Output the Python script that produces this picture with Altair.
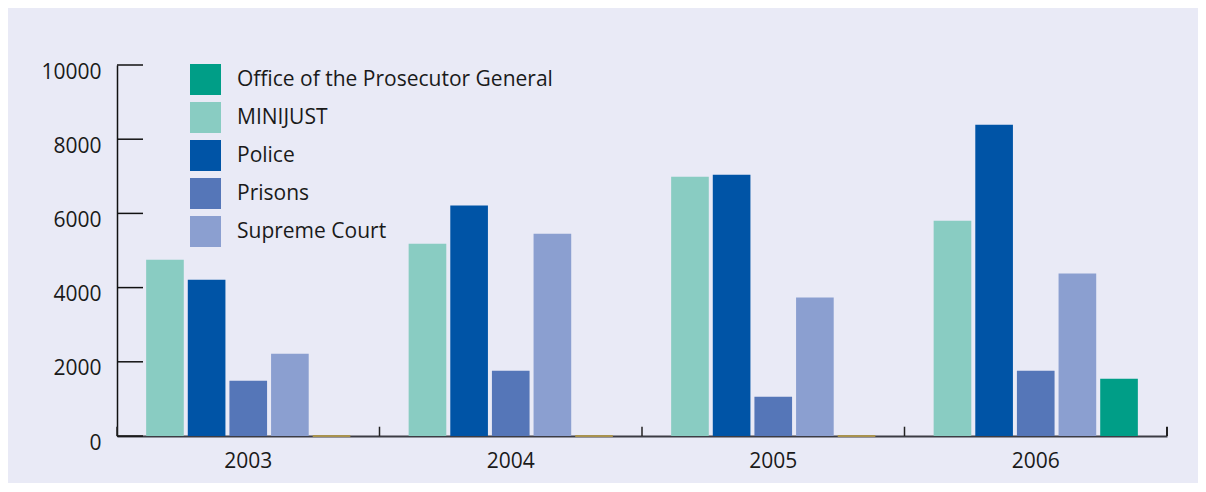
import altair as alt
import pandas as pd

years = ["2003", "2004", "2005", "2006"]
bar_order = ["MINIJUST", "Police", "Prisons", "Supreme Court", "Office of the Prosecutor General"]
legend_order = ["Office of the Prosecutor General", "MINIJUST", "Police", "Prisons", "Supreme Court"]
legend_colors = ["#009E87", "#89CCC2", "#0054A6", "#5576B8", "#8B9FD0"]

minijust = [4750, 5180, 6990, 5800]
police = [4210, 6210, 7040, 8390]
prisons = [1490, 1760, 1060, 1760]
supreme = [2220, 5450, 3730, 4380]
prosecutor = [0, 0, 0, 1540]

y_ticks = [0, 2000, 4000, 6000, 8000, 10000]

series = {
    "MINIJUST": minijust,
    "Police": police,
    "Prisons": prisons,
    "Supreme Court": supreme,
    "Office of the Prosecutor General": prosecutor,
}
rows = []
for name in bar_order:
    for yr, v in zip(years, series[name]):
        rows.append({"year": yr, "agency": name, "value": v})
df = pd.DataFrame(rows)
tick_df = pd.DataFrame({"tick": y_ticks})
year_df = pd.DataFrame({"year": years})
last_df = pd.DataFrame({"year": years[-1:]})

FONT = "Open Sans"

x_scale = alt.Scale(domain=years, paddingInner=0, paddingOuter=0)
xo_scale = alt.Scale(domain=bar_order, paddingInner=0.096, paddingOuter=0.7)
y_scale = alt.Scale(domain=[0, 10000], nice=False)

x_axis = alt.Axis(title=None, ticks=False, labelAngle=0, labelPadding=14,
                  labelFontSize=21, labelFont=FONT, labelColor="#1a1a1a",
                  domainColor="#3c3c44", domainWidth=2, grid=False)
y_axis = alt.Axis(title=None, ticks=False, values=y_ticks, format="d", labelPadding=16,
                  labelFontSize=21, labelFont=FONT, labelColor="#1a1a1a",
                  labelOffset=7, domainColor="#111111", domainWidth=1.5, grid=False)

bars = alt.Chart(df).mark_bar().encode(
    x=alt.X("year:N", scale=x_scale, axis=x_axis),
    xOffset=alt.XOffset("agency:N", scale=xo_scale),
    y=alt.Y("value:Q", scale=y_scale, axis=y_axis),
    color=alt.Color(
        "agency:N",
        scale=alt.Scale(domain=legend_order, range=legend_colors),
        legend=alt.Legend(
            title=None, orient="none", legendX=73, legendY=-1,
            symbolType="square", symbolSize=961, symbolStrokeWidth=0,
            symbolOpacity=1, labelFontSize=21, labelFont=FONT,
            labelColor="#1a1a1a", rowPadding=7, labelOffset=16, labelLimit=0,
        ),
    ),
)

zero_lines = alt.Chart(df).transform_filter("datum.value == 0").mark_bar(
    fill="#A8924E", stroke="#A8924E", strokeWidth=2
).encode(
    x=alt.X("year:N", scale=x_scale),
    xOffset=alt.XOffset("agency:N", scale=xo_scale),
    y=alt.Y("value:Q", scale=y_scale),
)

y_tick_rules = alt.Chart(tick_df).mark_rule(color="#111111", strokeWidth=1.5).encode(
    y=alt.Y("tick:Q", scale=y_scale),
    x=alt.value(0),
    x2=alt.value(26),
)

x_tick_rules = alt.Chart(year_df).mark_rule(color="#222222", strokeWidth=1.5).encode(
    x=alt.X("year:N", scale=x_scale, bandPosition=0),
    y=alt.datum(0),
    y2=alt.datum(250),
)

end_tick_rule = alt.Chart(last_df).mark_rule(color="#222222", strokeWidth=2).encode(
    x=alt.X("year:N", scale=x_scale, bandPosition=1),
    y=alt.datum(0),
    y2=alt.datum(250),
)

chart = alt.layer(bars, zero_lines, y_tick_rules, x_tick_rules, end_tick_rule).properties(
    width=1050,
    height=371,
    autosize=alt.AutoSizeParams(type="none"),
    padding={"left": 109, "top": 57, "right": 31, "bottom": 47},
    background="#E9EAF6",
).configure_view(stroke=None)

chart.save("out.html", embed_options={"renderer": "svg", "actions": False})
